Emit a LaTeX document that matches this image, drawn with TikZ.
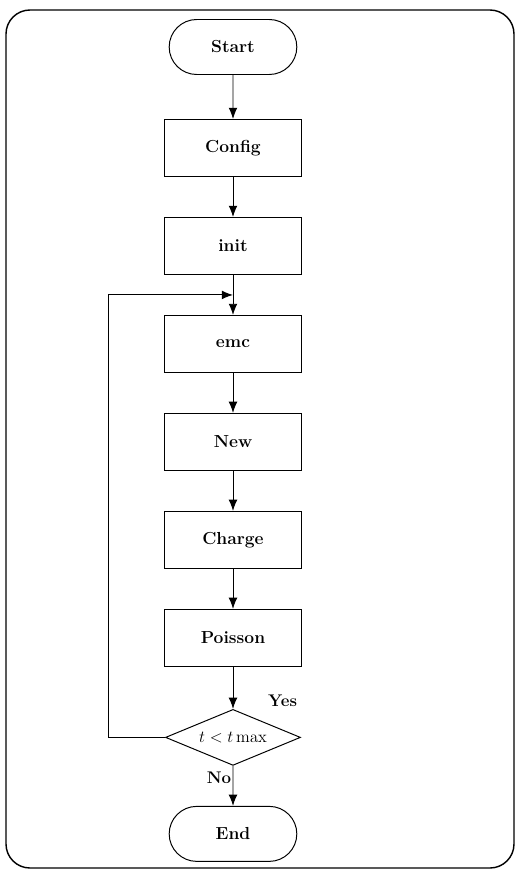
\documentclass[tikz,border=0pt]{standalone}
\usepackage{amsmath}
\usepackage{tikz}
\usetikzlibrary{arrows.meta,positioning,shapes.geometric,shapes.misc,calc}

\begin{document}
\begin{tikzpicture}[
        >={Latex[length=2.8mm,width=2.2mm]},
        node distance=1.0cm,
        line width=0.7pt,
        box/.style={draw, rectangle, minimum width=3.425cm, minimum height=1.425cm,
                    align=center, font=\fontsize{12.4}{15}\selectfont\bfseries},
        term/.style={draw, rounded rectangle, minimum width=3.425cm, minimum height=1.375cm,
                    font=\fontsize{12.4}{15}\selectfont\bfseries},
        test/.style={draw, diamond, aspect=2.4, inner sep=0pt, minimum width=3.375cm,
                    minimum height=1.4cm, font=\fontsize{13}{15}\selectfont},
        lab/.style={font=\large\bfseries}
    ]
        \useasboundingbox (-5.825,1.175) rectangle (7.125,-20.625);
        \draw[line width=1pt, rounded corners=0.6cm] (-5.675,0.925) rectangle (7.025,-20.525);

        \node[term] (start) at (0,0) {Start};
        \node[box, below=1.1cm of start] (config) {Config};
        \node[box, below=of config] (init) {init};
        \node[box, below=of init] (emc) {emc};
        \node[box, below=of emc] (new) {New};
        \node[box, below=of new] (charge) {Charge};
        \node[box, below=of charge] (poisson) {Poisson};
        \node[test, below=1.05cm of poisson] (cond) {$t < t\,\mathrm{max}$};
        \node[term, below=1.0cm of cond] (stop) {End};
        \coordinate (join) at ($(init.south)!0.5!(emc.north)$);

        \draw[->] (start) -- (config);
        \draw[->] (config) -- (init);
        \draw[->] (init) -- (emc);
        \draw[->] (emc) -- (new);
        \draw[->] (new) -- (charge);
        \draw[->] (charge) -- (poisson);
        \draw[->] (poisson) -- node[lab, pos=0.8, right=0.75cm] {Yes} (cond);
        \draw[->] (cond) -- node[lab, pos=0.3, left, inner sep=1pt] {No} (stop);
        \draw[->] (cond.west) -- ++(-1.425,0) |- (join);
    \end{tikzpicture}
\end{document}
